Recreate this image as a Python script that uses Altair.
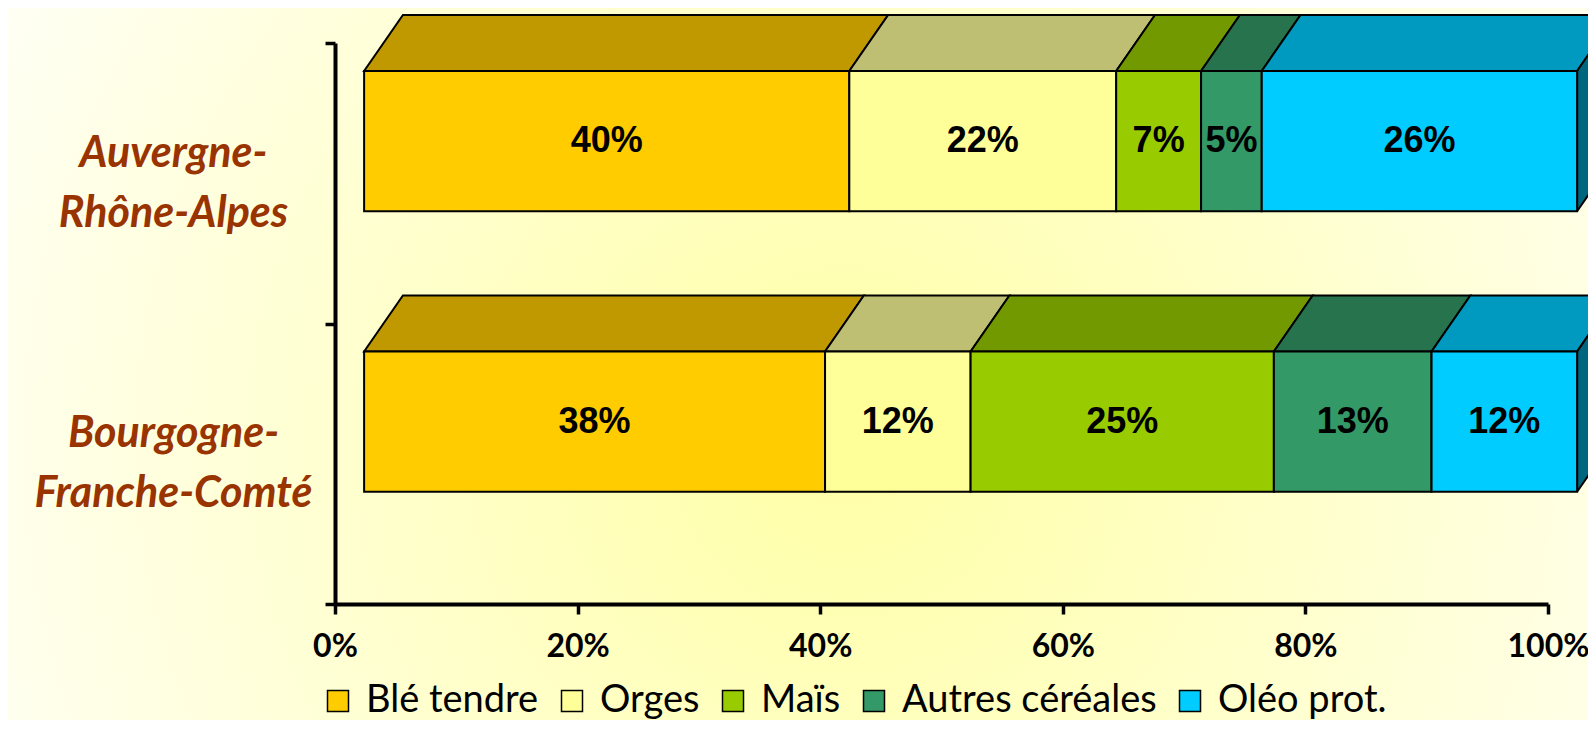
import json
import altair as alt
import pandas as pd

# ---------------- data ----------------
regions = ["Auvergne-Rhône-Alpes", "Bourgogne-Franche-Comté"]
region_label_lines = [["Auvergne-", "Rhône-Alpes"], ["Bourgogne-", "Franche-Comté"]]
crops = ["Blé tendre", "Orges", "Maïs", "Autres céréales", "Oléo prot."]
shares_auvergne = [40, 22, 7, 5, 26]
shares_bourgogne = [38, 12, 25, 13, 12]
x_ticks = [0, 20, 40, 60, 80, 100]

# ---------------- styles ----------------
front_colors = ["#FFCC00", "#FFFF99", "#99CC00", "#339966", "#00CCFF"]
top_colors = ["#C09900", "#BFBF73", "#739900", "#26734D", "#0099BF"]
side_colors = ["#806600", "#80804D", "#4D6600", "#1A4D33", "#00667F"]

X_SHIFT = 2.4     # front face offset from the axis (x units)
DEPTH_X = 3.2     # oblique depth (x units)
DEPTH_Y = 0.2     # oblique depth (y units)
FRONT_LOW = 0.4
FRONT_HIGH = 0.9

W, H = 1213, 561
PAD = {"left": 327, "top": 35, "right": 40, "bottom": 116}
LINE_H = 60

# ---------------- geometry derived from data ----------------
shares = [shares_auvergne, shares_bourgogne]
n = len(regions)
front_rows, top_rows, side_rows = [], [], []
for i, (reg, vals) in enumerate(zip(regions, shares)):
    base = n - 1 - i
    ylo, yhi = base + FRONT_LOW, base + FRONT_HIGH
    start = 0
    x1 = X_SHIFT
    for j, (crop, v) in enumerate(zip(crops, vals)):
        x0 = start + X_SHIFT
        x1 = start + v + X_SHIFT
        front_rows.append(dict(region=reg, crop=crop, x0=x0, x1=x1, ylo=ylo, yhi=yhi,
                               xm=(x0 + x1) / 2, ym=(ylo + yhi) / 2, label=f"{v}%"))
        face = f"{reg}|{crop}"
        yb = yhi + DEPTH_Y
        for k, (xx, ya, yz) in enumerate([(x0, yhi, yhi), (x0 + DEPTH_X, yhi, yb),
                                          (x1, yhi, yb), (x1 + DEPTH_X, yb, yb)]):
            top_rows.append(dict(face=face, col=top_colors[j], x=xx, ya=ya, yz=yz, k=k))
        start += v
    last = len(crops) - 1
    poly = [(x1, ylo), (x1, yhi), (x1 + DEPTH_X, yhi + DEPTH_Y),
            (x1 + DEPTH_X, ylo + DEPTH_Y), (x1, ylo)]
    for k, (xx, yy) in enumerate(poly):
        side_rows.append(dict(face=reg, col=side_colors[last], x=xx, y=yy, k=k))

front_df = pd.DataFrame(front_rows)
top_df = pd.DataFrame(top_rows)
side_df = pd.DataFrame(side_rows)

# ---------------- scales & axes ----------------
xs = alt.Scale(domain=[0, 100], nice=False, zero=False)
ys = alt.Scale(domain=[0, n], nice=False, zero=False)

label_expr = ""
for i, lines in enumerate(region_label_lines):
    c = n - 1 - i
    label_expr += f"datum.value == {c} ? {json.dumps(lines, ensure_ascii=False)} : "
label_expr += "''"
y_values = list(range(n + 1))
# labels belong to the lower boundary tick of each band: move them to the band centre
label_shift = -H / n / 2 - LINE_H / 2

x_axis = alt.Axis(values=x_ticks, labelExpr="datum.value + '%'", title=None, grid=False,
                  domainColor="black", domainWidth=4, tickColor="black", tickWidth=3.5,
                  tickSize=10, labelFont="Lato", labelFontWeight="bold", labelFontSize=32,
                  labelColor="black", labelPadding=17, labelFlush=False, zindex=1)
y_axis = alt.Axis(values=y_values, labelExpr=label_expr, title=None, grid=False,
                  domainColor="black", domainWidth=4, tickColor="black", tickWidth=3.5,
                  tickSize=10, labelOffset=label_shift,
                  labelFont="Lato", labelFontWeight="bold", labelFontStyle="italic",
                  labelFontSize=43, labelColor="#993300", labelAlign="center",
                  labelBaseline="middle", labelLineHeight=LINE_H, labelPadding=152,
                  labelOverlap=False, labelBound=False, labelFlush=False, labelLimit=600,
                  zindex=1)

# ---------------- layers ----------------
background = alt.Chart(pd.DataFrame({"k": [0]})).mark_rect(
    fill={"gradient": "radial",
          "stops": [{"offset": 0, "color": "#FFFFA6"}, {"offset": 1, "color": "#FFFFF4"}],
          "x1": 0.53, "y1": 0.55, "r1": 0, "x2": 0.53, "y2": 0.55, "r2": 0.6},
    strokeWidth=0,
).encode(
    x=alt.value(-PAD["left"]), x2=alt.value(W + PAD["right"]),
    y=alt.value(-PAD["top"]), y2=alt.value(H + PAD["bottom"]),
)

tops = alt.Chart(top_df).mark_area(stroke="black", strokeWidth=2).encode(
    x=alt.X("x:Q", scale=xs, axis=x_axis),
    y=alt.Y("ya:Q", scale=ys, axis=y_axis, stack=None),
    y2="yz:Q",
    detail="face:N",
    fill=alt.Fill("col:N", scale=None, legend=None),
)

sides = alt.Chart(side_df).mark_line(stroke="black", strokeWidth=2, filled=True).encode(
    x=alt.X("x:Q", scale=xs, axis=x_axis),
    y=alt.Y("y:Q", scale=ys, axis=y_axis),
    detail="face:N",
    fill=alt.Fill("col:N", scale=None, legend=None),
    order=alt.Order("k:Q"),
)

fronts = alt.Chart(front_df).mark_rect(stroke="black", strokeWidth=2, opacity=1).encode(
    x=alt.X("x0:Q", scale=xs, axis=x_axis),
    x2="x1:Q",
    y=alt.Y("ylo:Q", scale=ys, axis=y_axis),
    y2="yhi:Q",
    color=alt.Color("crop:N", scale=alt.Scale(domain=crops, range=front_colors),
                    legend=alt.Legend(orient="none", legendX=-16, legendY=639,
                                      direction="horizontal", title=None,
                                      labelFont="Lato", labelFontSize=38,
                                      labelColor="black", labelLimit=600,
                                      symbolType="square", symbolSize=441,
                                      symbolStrokeColor="black", symbolStrokeWidth=1.5,
                                      symbolOpacity=1,
                                      labelOffset=9, columnPadding=14, padding=0)),
)

texts = alt.Chart(front_df).mark_text(
    font="Liberation Sans", fontWeight="bold", fontSize=36, color="black",
    align="center", baseline="middle",
).encode(
    x=alt.X("xm:Q", scale=xs, axis=x_axis),
    y=alt.Y("ym:Q", scale=ys, axis=y_axis),
    text="label:N",
)

chart = alt.layer(background, tops, sides, fronts, texts).properties(
    width=W, height=H,
    padding=PAD,
    autosize=alt.AutoSizeParams(type="none"),
    background="#FFFFF4",
).configure_view(stroke=None)

chart.save("out.html", embed_options={"renderer": "svg", "actions": False})
